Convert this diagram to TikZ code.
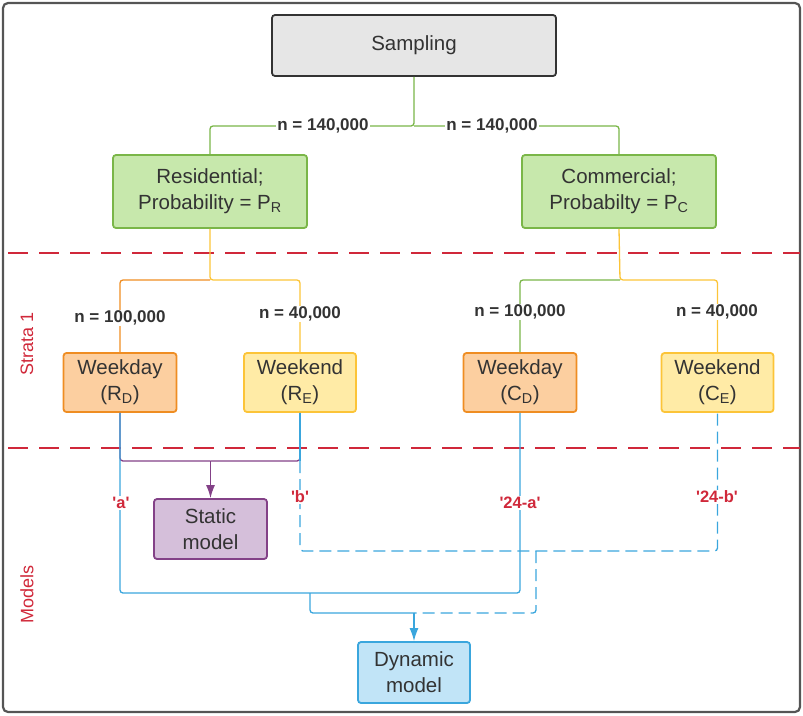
\documentclass[tikz,border=0pt]{standalone}
\usepackage{fontspec}
\setmainfont{Liberation Sans}
\usetikzlibrary{arrows.meta}
\definecolor{txt}{HTML}{333333}
\definecolor{grayfill}{HTML}{E6E6E6}
\definecolor{grayline}{HTML}{333333}
\definecolor{grnfill}{HTML}{C7E8AC}
\definecolor{grnline}{HTML}{7AB648}
\definecolor{orgfill}{HTML}{FCCFA0}
\definecolor{orgline}{HTML}{EF8D22}
\definecolor{ylwfill}{HTML}{FFEBA6}
\definecolor{ylwline}{HTML}{FCC438}
\definecolor{purfill}{HTML}{D5BFDA}
\definecolor{purline}{HTML}{834187}
\definecolor{blufill}{HTML}{C1E4F7}
\definecolor{bluline}{HTML}{3AA6DD}
\definecolor{redln}{HTML}{D0283A}
\definecolor{frame}{HTML}{555555}
\newcommand{\q}{\textquotesingle}
\tikzset{
  box/.style={draw, line width=1.8pt, rounded corners=3pt, align=center, text=txt,
    font=\fontsize{20.5}{26}\selectfont, inner sep=0pt},
  graybox/.style={box, fill=grayfill, draw=grayline, minimum width=284pt, minimum height=61pt},
  grnbox/.style={box, fill=grnfill, draw=grnline, minimum width=194pt, minimum height=73pt},
  orgbox/.style={box, fill=orgfill, draw=orgline, minimum width=113pt, minimum height=59pt},
  ylwbox/.style={box, fill=ylwfill, draw=ylwline, minimum width=112pt, minimum height=59pt},
  purbox/.style={box, fill=purfill, draw=purline, minimum width=113pt, minimum height=60pt},
  blubox/.style={box, fill=blufill, draw=bluline, minimum width=112pt, minimum height=61pt},
  conn/.style={line width=1.3pt, rounded corners=3pt},
  nlabel/.style={fill=white, text=txt, font=\fontsize{17}{19}\selectfont\bfseries, inner sep=1pt},
  mlabel/.style={fill=white, text=redln, font=\fontsize{16.5}{18}\selectfont\bfseries, inner sep=1pt},
  seclabel/.style={text=redln, font=\fontsize{18}{20}\selectfont, rotate=90},
  sep/.style={draw=redln, line width=2.2pt, dash pattern=on 20pt off 11pt},
  tip/.style={-{Latex[length=13pt,width=9pt]}},
}
\begin{document}
\begin{tikzpicture}[x=1pt,y=-1pt]
\useasboundingbox (0,0) rectangle (803,715);
\draw[frame, line width=2.2pt, rounded corners=5pt] (3,3) rectangle (800,712);

% nodes
\node[graybox] (samp) at (414,45.5) {Sampling};
\node[grnbox] (res) at (210,191.5) {Residential;\\Probability = P\textsubscript{R}};
\node[grnbox] (com) at (619,191.5) {Commercial;\\Probabilty = P\textsubscript{C}};
\node[orgbox] (rd) at (120,382.5) {Weekday\\(R\textsubscript{D})};
\node[ylwbox] (re) at (300,382.5) {Weekend\\(R\textsubscript{E})};
\node[orgbox] (cd) at (520,382.5) {Weekday\\(C\textsubscript{D})};
\node[ylwbox] (ce) at (717.5,382.5) {Weekend\\(C\textsubscript{E})};
\node[purbox] (stat) at (210.5,529) {Static\\model};
\node[blubox] (dyn) at (414,672.5) {Dynamic\\model};

% junctions
\coordinate (j1) at (414,126);
\coordinate (j2) at (210,280);
\coordinate (j3) at (620,280);
\coordinate (j4) at (210.5,461);
\coordinate (kb) at (300,461);
\coordinate (ja) at (310,593);
\coordinate (jd) at (536,551);
\coordinate (jm) at (414,613);
\coordinate (d1l) at (8,253);
\coordinate (d1r) at (800,253);
\coordinate (d2l) at (8,448);
\coordinate (d2r) at (800,448);

% separators
\draw[sep] (d1l) -- (d1r);
\draw[sep] (d2l) -- (d2r);

% sampling connectors
\draw[conn, draw=grnline] (samp.south) -- (j1) -| (res.north);
\draw[conn, draw=grnline] (j1) -| (com.north);
% residential
\draw[conn, draw=ylwline] (res.south) -- (j2) -| (re.north);
\draw[conn, draw=orgline] (j2) -| (rd.north);
% commercial
\draw[conn, draw=ylwline] (com.south) -- (j3) -| (ce.north);
\draw[conn, draw=grnline] (j3) -| (cd.north);

% static model bracket
\draw[conn, draw=purline] (rd.south) |- (j4);
\draw[conn, draw=purline] (re.south) |- (j4);
\draw[conn, draw=purline, tip] (j4) -- (stat.north);

% dynamic model connectors
\draw[conn, draw=bluline] (rd.south) |- (ja) -| (cd.south);
\draw[conn, draw=bluline] (re.south) -- (kb);
\draw[conn, draw=bluline, dash pattern=on 12pt off 6pt] (kb) |- (jd) -| (ce.south);
\draw[conn, draw=bluline, dash pattern=on 12pt off 6pt] (jd) |- (jm);
\draw[conn, draw=bluline] (ja) |- (jm);
\draw[conn, draw=bluline, tip, rounded corners=0pt] (jm) -- (dyn.north);

% labels
\node[nlabel] (l1) at (323,126) {n = 140,000};
\node[nlabel] (l2) at (492,126) {n = 140,000};
\node[nlabel] (l3) at (120,318) {n = 100,000};
\node[nlabel] (l4) at (300,314) {n = 40,000};
\node[nlabel] (l5) at (520,312) {n = 100,000};
\node[nlabel] (l6) at (717,312) {n = 40,000};
\node[mlabel] (ma) at (121,503) {\q a\q};
\node[mlabel] (mb) at (300,497) {\q b\q};
\node[mlabel] (mc) at (520,503) {\q 24-a\q};
\node[mlabel] (md) at (717,497) {\q 24-b\q};
\node[seclabel] (s1) at (27,344) {Strata 1};
\node[seclabel] (s2) at (27,594) {Models};
\end{tikzpicture}
\end{document}
